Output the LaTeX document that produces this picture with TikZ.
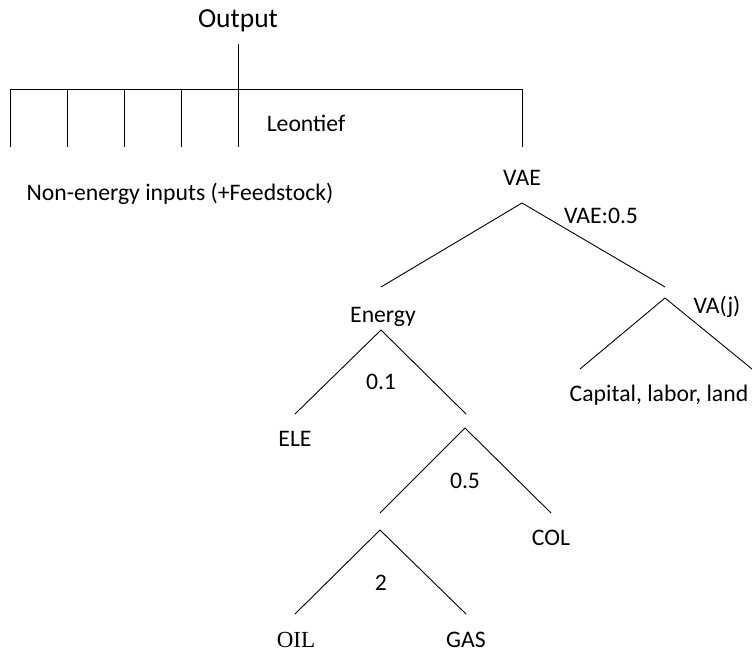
\documentclass[tikz,border=0pt]{standalone}
\usepackage{fontspec}
\setmainfont{Carlito}
\newfontfamily\oilfont{Liberation Serif}
\begin{document}
\begin{tikzpicture}[x=1bp,y=-1bp,line width=0.9bp,
  lbl/.style={inner sep=0pt,anchor=base,font=\fontsize{23.7bp}{28bp}\selectfont},
  big/.style={inner sep=0pt,anchor=base,font=\fontsize{27.5bp}{32bp}\selectfont},
  serif/.style={inner sep=0pt,anchor=base,font=\oilfont\fontsize{23bp}{27bp}\selectfont},
  branch/.style={draw=black,line width=0.9bp}]
\useasboundingbox (0,0) rectangle (752,654);
% labels
\node[big] (output) at (238,28) {Output};
\node[lbl] (leontief) at (306,132) {Leontief};
\node[lbl] (nonenergy) at (180,200) {Non-energy inputs (+Feedstock)};
\node[lbl] (vae) at (522,185) {VAE};
\node[lbl] (vaes) at (601,223) {VAE:0.5};
\node[lbl] (energy) at (383,322) {Energy};
\node[lbl] (vaj) at (717,313) {VA(j)};
\node[lbl] (cll) at (659,401) {Capital, labor, land};
\node[lbl] (e01) at (381,389) {0.1};
\node[lbl] (ele) at (295,446) {ELE};
\node[lbl] (e05) at (465,488) {0.5};
\node[lbl] (col) at (551,545) {COL};
\node[lbl] (e2) at (381,590) {2};
\node[serif] (oil) at (296,647) {OIL};
\node[lbl] (gas) at (466,647) {GAS};
% Leontief nest
\coordinate (otop) at (238.5,44);
\coordinate (hl) at (10.5,89);
\coordinate (hr) at (522,89);
\draw[branch] (otop) -- (238.5,147);
\draw[branch] (hl) -- (hr);
\foreach \i/\x in {1/10.5,2/67.5,3/124.5,4/181.5,5/522}{
  \coordinate (t\i) at (\x,89);
  \coordinate (b\i) at (\x,147);
  \draw[branch] (t\i) -- (b\i);
}
% VAE nest
\coordinate (vaeapex) at (522,203);
\coordinate (vaeL) at (381,287);
\coordinate (vaeR) at (665,287);
\draw[branch] (vaeL) -- (vaeapex) -- (vaeR);
% VA nest
\coordinate (vaapex) at (665,298);
\coordinate (vaL) at (580,369);
\coordinate (vaR) at (752,369);
\draw[branch] (vaL) -- (vaapex) -- (vaR);
% Energy nest
\coordinate (enapex) at (381,330);
\coordinate (enL) at (295,414);
\coordinate (enR) at (466,414);
\draw[branch] (enL) -- (enapex) -- (enR);
% fossil nest
\coordinate (foapex) at (465,428);
\coordinate (foL) at (380,513);
\coordinate (foR) at (551,513);
\draw[branch] (foL) -- (foapex) -- (foR);
% oil-gas nest
\coordinate (ogapex) at (380,530);
\coordinate (ogL) at (295,614);
\coordinate (ogR) at (466,614);
\draw[branch] (ogL) -- (ogapex) -- (ogR);
\end{tikzpicture}
\end{document}
